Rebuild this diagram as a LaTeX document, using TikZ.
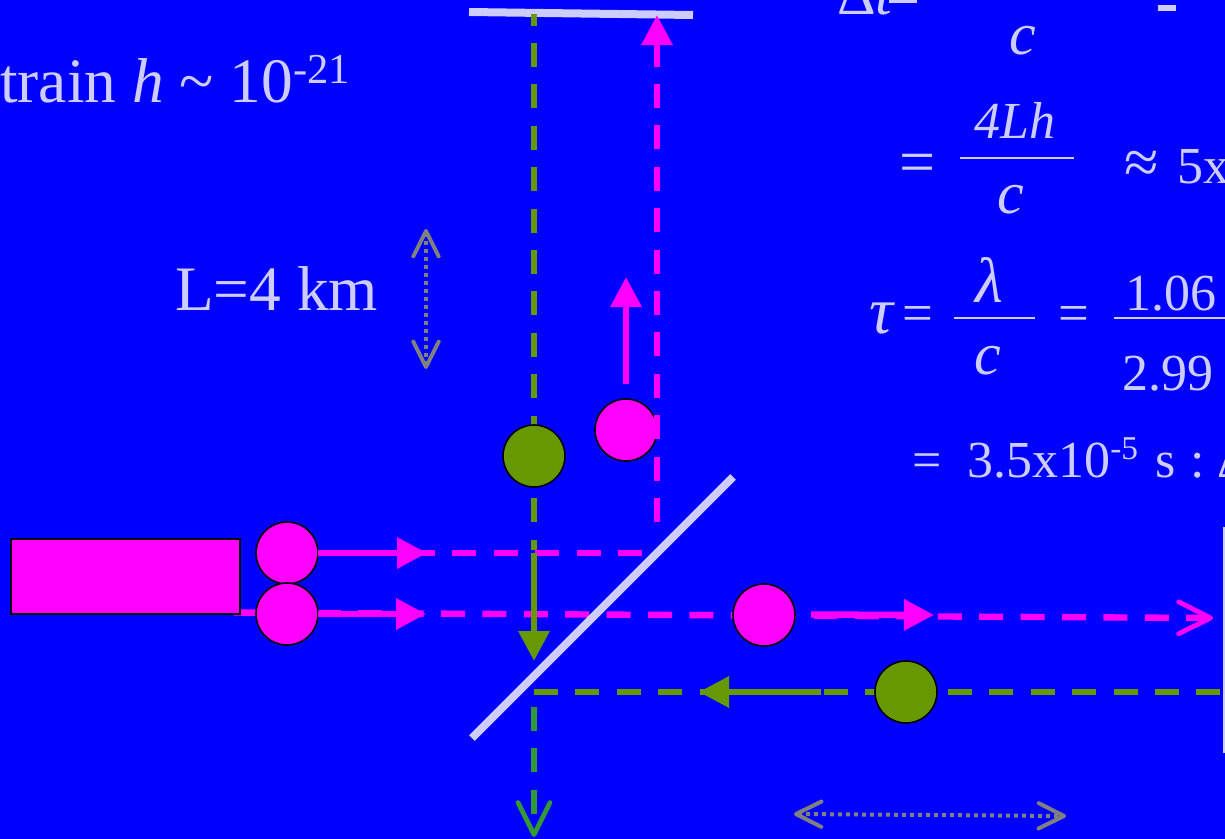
\documentclass[tikz,border=0pt]{standalone}
\usepackage{fontspec}
\setmainfont{Liberation Serif}
\usetikzlibrary{arrows.meta, positioning}
\definecolor{bluebg}{HTML}{0000FF}
\definecolor{paletxt}{HTML}{CCCCFF}
\definecolor{pinkbeam}{HTML}{FF00FF}
\definecolor{olivebeam}{HTML}{669900}
\definecolor{greenbeam}{HTML}{339933}
\definecolor{graybar}{HTML}{808080}
\tikzset{
  photon/.style={circle, draw=black, line width=1.2pt, minimum size=46.5pt, inner sep=0pt, outer sep=0pt},
  pinkphoton/.style={photon, fill=pinkbeam},
  olivephoton/.style={photon, fill=olivebeam},
  beamdash/.style={line width=4.8pt, dash pattern=on 18pt off 13.05pt},
  solidtip/.style={line width=4.8pt, -{Triangle[length=22.5pt, width=22.5pt]}},
  opentip/.style={-{Straight Barb[length=24pt, width=24pt, round, line width=3.6pt]}},
  scaletip/.style={graybar, line width=3pt, dash pattern=on 3pt off 3pt, {Straight Barb[length=19pt, width=19pt, round, line width=3pt]}-{Straight Barb[length=19pt, width=19pt, round, line width=3pt]}},
  mirror/.style={paletxt, line width=6pt},
  txt/.style={text=paletxt, inner sep=0pt, anchor=base west},
  eqtxt/.style={txt, font=\fontsize{39}{39}\selectfont},
  eqit/.style={txt, font=\fontsize{39}{39}\selectfont\itshape},
  bigit/.style={txt, font=\fontsize{45}{45}\selectfont\itshape},
  fracbar/.style={fill=paletxt, inner sep=0pt, minimum height=1.5pt, anchor=center}
}

\begin{document}
\begin{tikzpicture}[x=0.75pt, y=-0.75pt]
    \useasboundingbox (0,0) rectangle (1225,839);
    \clip (0,0) rectangle (1225,839);
    \fill[bluebg] (0,0) rectangle (1225,839);

    % free ends of the beams
    \coordinate (mtopL) at (469,12);
    \coordinate (mtopR) at (693,15);
    \coordinate (bsA) at (472,738);
    \coordinate (bsB) at (733,477);
    \coordinate (mrightA) at (1224,527);
    \coordinate (mrightB) at (1224,753);
    \coordinate (oliveTop) at (534,14);
    \coordinate (oliveEnd) at (534,550);
    \coordinate (pinkUpA) at (657,522);
    \coordinate (pinkUpB) at (657,15);
    \coordinate (pinkTopA) at (411,553);
    \coordinate (pinkTopB) at (642,553);
    \coordinate (pinkLowA) at (234,612.5);
    \coordinate (pinkLowB) at (1213,618);
    \coordinate (oliveLowA) at (534,692);
    \coordinate (oliveLowB) at (1221,692);
    \coordinate (greenA) at (534,707);
    \coordinate (greenB) at (534,837);
    \coordinate (scaleVa) at (426,229);
    \coordinate (scaleVb) at (426,369);
    \coordinate (scaleHa) at (794,814);
    \coordinate (scaleHb) at (1066,816);

    \draw[mirror] (mtopL) -- (mtopR);
    \draw[mirror, line width=2pt] (mrightA) -- (mrightB);

    % dashed beams
    \draw[beamdash, dash phase=9.3pt, olivebeam] (oliveTop) -- (oliveEnd);
    \draw[beamdash, olivebeam] (oliveLowA) -- (oliveLowB);
    \draw[beamdash, pinkbeam] (pinkTopA) -- (pinkTopB);
    \draw[beamdash, pinkbeam, opentip] (pinkLowA) -- (pinkLowB);
    \draw[beamdash, greenbeam, opentip] (greenA) -- (greenB);

    % beam splitter
    \draw[mirror] (bsA) -- (bsB);

    % laser and photons
    \node[rectangle, draw=black, line width=1.5pt, fill=pinkbeam, minimum width=172pt, minimum height=56.5pt, inner sep=0pt, anchor=north west] (laser) at (10,538) {};
    \node[pinkphoton] (phA) at (287,553) {};
    \node[pinkphoton] (phB) at (287,614) {};
    \node[pinkphoton] (phC) at (764,615) {};
    \node[pinkphoton] (phD) at (626,430) {};
    \node[olivephoton] (phE) at (534,456) {};
    \node[olivephoton] (phF) at (906,692) {};
    \draw[beamdash, pinkbeam, -{Triangle[length=22.5pt, width=22.5pt]}] (pinkUpA) -- (pinkUpB);

    % solid arrows
    \coordinate (tipA) at (427,553);
    \coordinate (tipB) at (426,614);
    \coordinate (tipCa) at (811,614.5);
    \coordinate (tipCb) at (934,615);
    \coordinate (tipDa) at (626,384);
    \coordinate (tipDb) at (626,277);
    \coordinate (tipEa) at (534,553);
    \coordinate (tipEb) at (534,661);
    \coordinate (tipFa) at (821,692);
    \coordinate (tipFb) at (699,692);
    \draw[solidtip, pinkbeam] (phA.east) -- (tipA);
    \draw[solidtip, pinkbeam] (phB.east) -- (tipB);
    \draw[solidtip, pinkbeam] (tipCa) -- (tipCb);
    \draw[solidtip, pinkbeam] (tipDa) -- (tipDb);
    \draw[solidtip, olivebeam] (tipEa) -- (tipEb);
    \draw[solidtip, olivebeam] (tipFa) -- (tipFb);

    % length marks
    \draw[scaletip] (scaleVa) -- (scaleVb);
    \draw[scaletip] (scaleHa) -- (scaleHb);

    % left labels
    \node[txt, font=\fontsize{47.5}{47.5}\selectfont] (strain) at (0,102) {train \textit{h} \char"007E{} 10\raisebox{14pt}{\fontsize{32}{32}\selectfont -21}};
    \node[txt, font=\fontsize{47.5}{47.5}\selectfont] (armlen) at (175,310) {L=4 km};

    % first equation
    \node[bigit] (dt) at (837,14) {{\upshape Δ}t};
    \node[fill=paletxt, inner sep=0pt, minimum width=21pt, minimum height=2pt, anchor=north west] (dtEq) at (889,0) {};
    \node[fill=paletxt, inner sep=0pt, minimum width=13pt, minimum height=4pt, anchor=north west] (dtEnd) at (1158,5) {};
    \node[bigit] (cA) at (1009,54) {c};

    % second equation
    \node[eqtxt, font=\fontsize{48}{48}\selectfont] (eqB) at (899,183) {=};
    \node[eqit] (num4lh) at (974,138) {4Lh};
    \node[fracbar, minimum width=85.5pt] (barB) at (1017,158) {};
    \node[bigit] (cB) at (997,213) {c};
    \node[eqtxt, font=\fontsize{47}{47}\selectfont] (approxB) at (1124,183) {≈};
    \node[eqtxt] (fiveX) at (1177,183) {5x};

    % third equation
    \node[eqit, font=\fontsize{50}{50}\selectfont\itshape] (tau) at (869,333) {τ};
    \node[eqtxt, font=\fontsize{41}{41}\selectfont] (eqCa) at (902,331) {=};
    \node[eqit, font=\fontsize{48}{48}\selectfont\itshape] (lam) at (975,302) {λ};
    \node[fracbar, minimum width=61pt] (barC) at (994.5,318) {};
    \node[bigit] (cC) at (974,374) {c};
    \node[eqtxt, font=\fontsize{41}{41}\selectfont] (eqCb) at (1058,331) {=};
    \node[eqtxt] (numC) at (1125,310) {1.06};
    \node[fracbar, minimum width=84pt, anchor=west] (barD) at (1114,318) {};
    \node[eqtxt] (denC) at (1122,390) {2.99};

    % time line
    \node[eqtxt] (eqD) at (912,477) {=};
    \node[eqtxt] (tline) at (967,477) {3.5x10\raisebox{13pt}{\fontsize{25}{25}\selectfont -5}\hspace{3pt} s\hspace{2pt} : \hspace{-4pt}Δ};
\end{tikzpicture}
\end{document}
